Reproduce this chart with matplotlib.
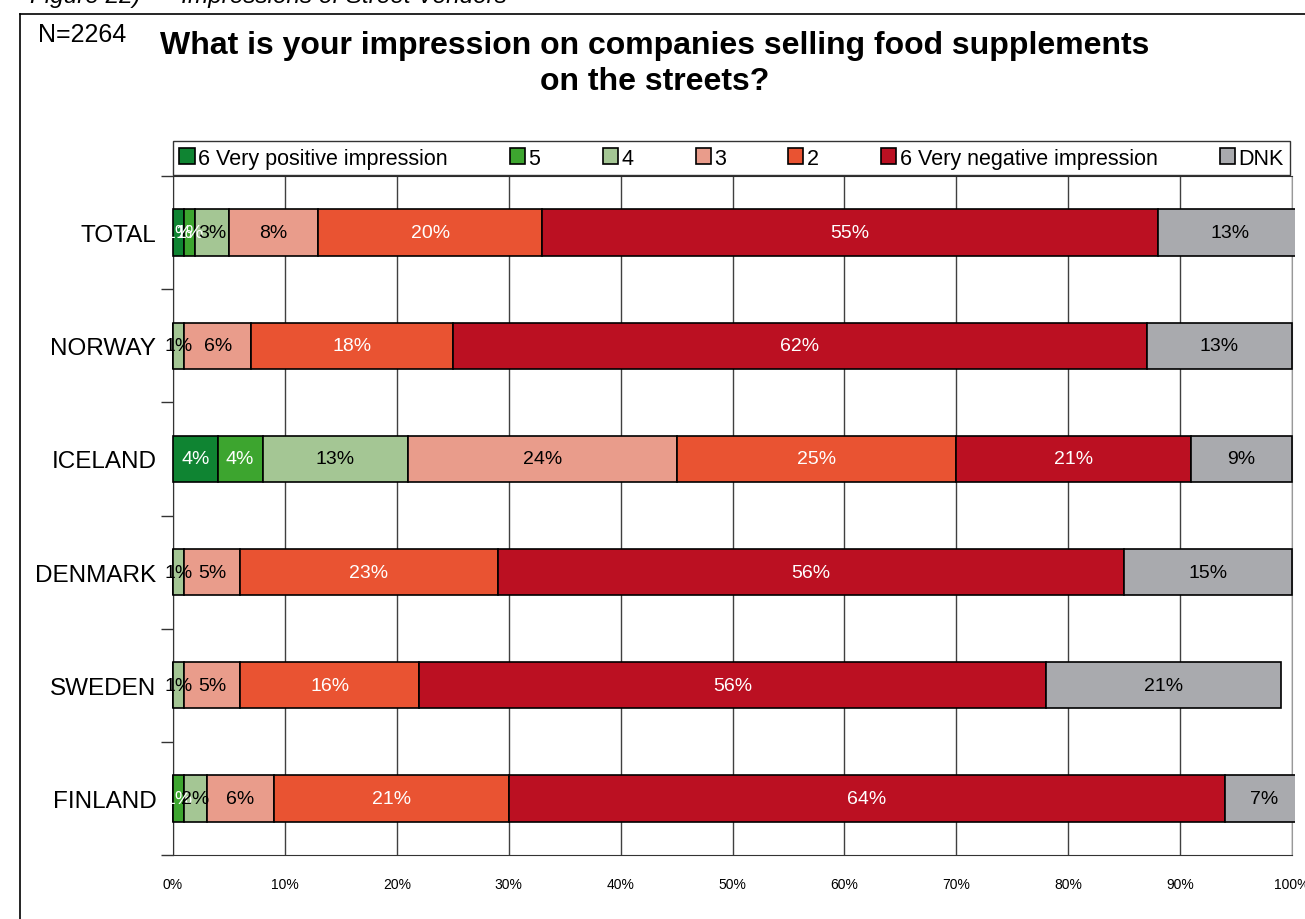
import matplotlib.pyplot as plt
import numpy as np

plt.rcParams['font.family'] = ['Liberation Sans', 'DejaVu Sans']

countries = ['TOTAL', 'NORWAY', 'ICELAND', 'DENMARK', 'SWEDEN', 'FINLAND']
series_names = ['6 Very positive impression', '5', '4', '3', '2',
                '6 Very negative impression', 'DNK']
very_pos = [1, 0, 4, 0, 0, 0]
five = [1, 0, 4, 0, 0, 1]
four = [3, 1, 13, 1, 1, 2]
three = [8, 6, 24, 5, 5, 6]
two = [20, 18, 25, 23, 16, 21]
very_neg = [55, 62, 21, 56, 56, 64]
dnk = [13, 13, 9, 15, 21, 7]

colors = ['#0f8432', '#3da52f', '#a4c694', '#e99c8b', '#e95332', '#bb1022', '#a9aaae']
text_colors = ['white', 'white', 'black', 'black', 'white', 'white', 'black']

series = [very_pos, five, four, three, two, very_neg, dnk]

W, H = 1305, 920
fig = plt.figure(figsize=(W / 100, H / 100), dpi=100)
ax = fig.add_axes([173 / W, 1 - 856 / H, (1292 - 173) / W, (856 - 177) / H])

# bars stop at the right edge of the chart object
clip = plt.Rectangle((0, 0), 1295 / W, 1, transform=fig.transFigure)

y = np.arange(len(countries))
left = np.zeros(len(countries))
for vals, name, col, tcol in zip(series, series_names, colors, text_colors):
    v = np.array(vals) / 100.0
    bars = ax.barh(y, v, left=left, height=0.41, color=col, edgecolor='black',
                   linewidth=1.2, label=name, zorder=3)
    for b in bars:
        b.set_clip_path(clip)
    for yi, (l, w, raw) in enumerate(zip(left, v, vals)):
        if raw > 0:
            ax.text(l + w / 2, yi, f'{raw}%', ha='center', va='center',
                    color=tcol, fontsize=14, zorder=4, clip_on=False)
    left += v

ax.set_xlim(0, 1)
ax.set_ylim(len(countries) - 0.5, -0.5)
ax.set_xticks(np.linspace(0, 1, 11))
ax.set_xticklabels([f'{i}%' for i in range(0, 101, 10)], fontsize=10)
ax.tick_params(axis='x', length=0, pad=16)
ax.set_yticks(y)
ax.set_yticklabels(countries, fontsize=17.5)
ax.tick_params(axis='y', which='major', length=0, pad=12)
ax.set_yticks(np.arange(-0.5, len(countries), 1), minor=True)
ax.tick_params(axis='y', which='minor', length=9, width=1, color='#333333')
ax.grid(axis='x', color='#404040', linewidth=1, zorder=0)
ax.set_axisbelow(True)
ax.spines['top'].set_color('#333333')
ax.spines['right'].set_color('#999999')
ax.spines['left'].set_color('#333333')
ax.spines['bottom'].set_color('#333333')

leg = fig.legend(loc='lower left', bbox_to_anchor=(173 / W, 1 - 176 / H, (1290 - 173) / W, 35 / H),
                 mode='expand', ncol=7, fontsize=15.5, frameon=True, fancybox=False,
                 edgecolor='black', handlelength=0.7, handleheight=0.7,
                 handletextpad=0.15, borderpad=0.3, borderaxespad=0)
leg.get_frame().set_linewidth(1)

fig.text(655 / W, 1 - 64 / H,
         'What is your impression on companies selling food supplements\non the streets?',
         ha='center', va='center', fontsize=23, fontweight='bold', linespacing=1.3)
fig.text(38 / W, 1 - 35 / H, 'N=2264', ha='left', va='center', fontsize=18)
fig.text(30 / W, 1 + 3 / H, 'Figure 22)  \u2013  Impressions of Street Vendors',
         ha='left', va='center', fontsize=17.5, style='italic')

# outer frame around the chart
fig.add_artist(plt.Line2D([20 / W, 20 / W], [0, 1 - 15 / H], color='black',
                          linewidth=1.2, transform=fig.transFigure))
fig.add_artist(plt.Line2D([20 / W, 1], [1 - 15 / H, 1 - 15 / H], color='black',
                          linewidth=1.2, transform=fig.transFigure))

fig.savefig('out.png', dpi=100)
